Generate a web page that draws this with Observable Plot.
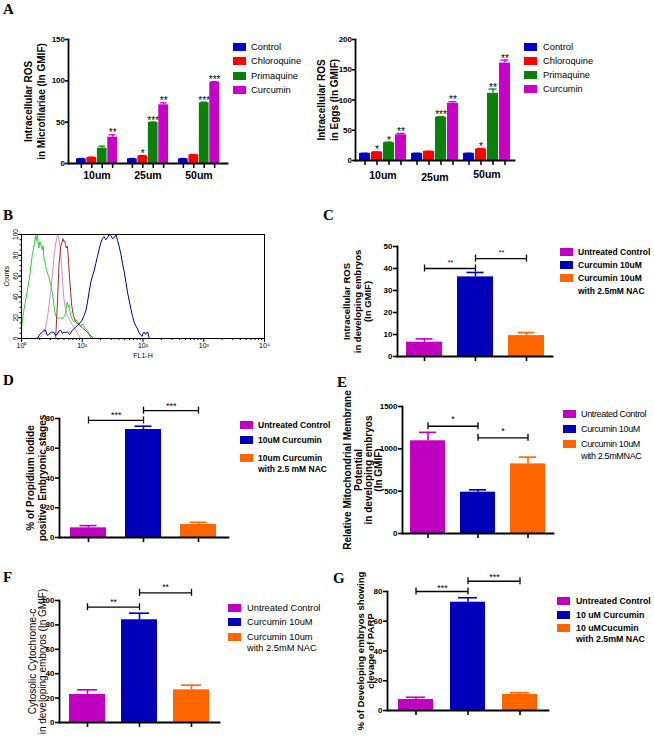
<!DOCTYPE html>
<html>
<head>
<meta charset="utf-8">
<script src="https://cdn.jsdelivr.net/npm/d3@7"></script>
<script src="https://cdn.jsdelivr.net/npm/@observablehq/plot@0.6"></script>
<style>
  html, body { margin: 0; padding: 0; background: #fff; }
  #fig { position: relative; width: 654px; height: 740px; overflow: hidden; background: #fff; color: #000; }
</style>
</head>
<body>
<div id="fig"></div>
<script>
// ================= DATA =================
// Panel A
const doses = ["10um", "25um", "50um"];
const drugs = ["Control", "Chloroquine", "Primaquine", "Curcumin"];
const drugColors = ["#0000cc", "#ff0000", "#0b800b", "#c800c8"];
const mfTicks = [0, 50, 100, 150];
const mfROS = [[5.6, 7.3, 18.5, 31.9], [5.6, 9.3, 49.6, 71.0], [5.6, 10.5, 73.4, 98.4]];
const mfErr = [[0.4, 0.4, 2.5, 2.8], [0.4, 0.4, 0.6, 2.4], [0.4, 0.4, 0.8, 0.5]];
const mfSig = [["", "", "", "**"], ["", "*", "***", "**"], ["", "", "***", "***"]];
const eggTicks = [0, 50, 100, 150, 200];
const eggROS = [[11.6, 13.8, 29.3, 42.5], [11.6, 14.9, 71.3, 94.5], [11.6, 18.8, 111, 161]];
const eggErr = [[0.5, 0.5, 1.1, 2.3], [0.5, 0.5, 1.1, 2.7], [0.5, 1.1, 7.0, 5.0]];
const eggSig = [["", "*", "*", "**"], ["", "", "***", "**"], ["", "*", "**", "**"]];

// Panel B (flow cytometry histogram: [FL1-H, Counts])
const flTicks = [1, 10, 100, 1000, 10000];
const countTicks = [0, 20, 40, 60, 80, 100];
const histGreen = [[1.0,8],[1.02,14],[1.1,28],[1.24,45],[1.38,62],[1.5,80],[1.62,90],[1.7,99],[1.76,94],[1.82,100],[1.88,92],[1.93,87],[2.0,93],[2.06,91],[2.13,88],[2.2,85],[2.27,89],[2.34,77],[2.42,74],[2.49,70],[2.57,66],[2.66,64],[2.74,61],[2.82,60],[2.92,55],[3.01,53],[3.11,48],[3.21,45],[3.31,38],[3.42,32],[3.53,26],[3.65,22],[3.87,20],[4.09,19],[4.4,20],[4.76,19],[5.05,21],[5.33,24],[5.5,32],[5.69,35],[5.87,30],[6.05,32],[6.26,27],[6.46,22],[6.9,18],[7.31,16],[7.8,18],[8.34,17],[8.9,13],[9.44,12],[10.0,14],[10.7,12],[11.4,9],[12.2,8],[13.0,4],[13.8,0]];
const histPink = [[1.84,0],[2.1,2],[2.34,5],[2.5,11],[2.66,19],[2.84,32],[3.01,44],[3.21,60],[3.42,78],[3.65,91],[3.8,97],[3.98,100],[4.14,95],[4.3,89],[4.53,73],[4.76,54],[5.0,38],[5.33,27],[5.69,22],[6.05,19],[6.46,16],[6.9,13],[7.31,11],[7.8,8],[8.34,5],[9.44,0]];
const histRed = [[3.65,0],[3.89,32],[4.14,70],[4.42,88],[4.62,92],[4.82,96],[5.0,93],[5.14,94],[5.32,90],[5.48,87],[5.69,89],[5.87,80],[6.05,67],[6.25,55],[6.46,44],[6.7,32],[7.16,22],[7.82,16],[10.2,10],[12.5,5],[15.5,0],[100,0]];
const histNavy = [[1.82,0],[2.0,4],[2.2,6],[2.35,8],[2.49,8],[2.65,3],[2.82,4],[3.1,6],[3.42,6],[3.6,3],[3.89,4],[4.1,7],[4.42,8],[4.7,5],[5.0,6],[5.69,6],[6.2,4],[6.89,8],[7.82,11],[8.85,14],[9.8,17],[10.7,22],[11.5,27],[12.2,35],[13.0,45],[13.8,54],[14.7,60],[15.7,65],[16.7,72],[17.8,79],[19.0,86],[20.2,92],[21.5,96],[22.9,98],[24.4,95],[26.1,97],[27.8,100],[29.6,99],[31.5,96],[33.6,97],[35.9,100],[38.2,94],[40.7,88],[43.3,81],[46.1,72],[49.1,64],[52.4,54],[55.8,44],[59.5,36],[63.4,28],[67.5,21],[71.8,15],[76.6,12],[81.7,9],[87,5],[92.7,3],[97,2],[100,5],[105,6],[110,4],[115,6],[120,6],[127,0],[10000,0]];

// Panels C-G
const treatColors = ["#c000c0", "#0000b8", "#ff6600"];

const rosGroups = ["Untreated Control", "Curcumin 10uM", "Curcumin 10uM\nwith 2.5mM NAC"];
const rosTicks = [0, 10, 20, 30, 40, 50];
const rosValues = [6.5, 36.2, 9.5];
const rosErrors = [1.5, 2.0, 1.4];
const rosBrackets = [[0, 1, 40, "**"], [1, 2, 44.5, "**"]];

const piGroups = ["Untreated Control", "10uM Curcumin", "10um Curcumin\nwith 2.5 mM NAC"];
const piTicks = [0, 20, 40, 60, 80];
const piValues = [6.5, 72.6, 8.8];
const piErrors = [1.5, 2.2, 1.4];
const piBrackets = [[0, 1, 78.7, "***"], [1, 2, 85.3, "***"]];

const mmpGroups = ["Untreated Control", "Curcumin 10uM", "Curcumin 10uM\nwith 2.5mMNAC"];
const mmpTicks = [0, 500, 1000, 1500];
const mmpValues = [1095, 488, 822];
const mmpErrors = [100, 28, 80];
const mmpBrackets = [[0, 1, 1267, "*"], [1, 2, 1130, "*"]];

const cytGroups = ["Untreated Control", "Curcumin 10uM", "Curcumin 10um\nwith 2.5mM NAC"];
const cytTicks = [0, 20, 40, 60, 80, 100];
const cytValues = [23, 84.2, 26.8];
const cytErrors = [3.8, 5.4, 3.8];
const cytBrackets = [[0, 1, 94.5, "**"], [1, 2, 106.3, "**"]];

const parpGroups = ["Untreated Control", "10 uM Curcumin", "10 uMCucumin\nwith 2.5mM NAC"];
const parpTicks = [0, 20, 40, 60, 80];
const parpValues = [7.4, 72.8, 10.8];
const parpErrors = [1.5, 3.0, 1.1];
const parpBrackets = [[0, 1, 80, "***"], [1, 2, 86.9, "***"]];

// ================= DRAWING =================
const SANS = '"Liberation Sans", Arial, Helvetica, sans-serif';
const SERIF = '"Liberation Serif", "Times New Roman", serif';
const fig = document.getElementById("fig");
const baseStyle = {fontFamily: SANS, background: "transparent", color: "#000", overflow: "visible"};
const plainNum = d => String(d);

function put(node, left, top) {
  node.style.position = "absolute";
  node.style.left = left + "px";
  node.style.top = top + "px";
  fig.appendChild(node);
}

function yLabelMark(o) {
  return Plot.text([o.ylabel], {
    text: d => d, frameAnchor: "left", rotate: -90, dx: o.ldx,
    fontSize: o.lfs, fontWeight: o.lfw || "bold", fontFamily: SANS,
    lineHeight: o.llh, textAnchor: "middle", lineAnchor: "middle"
  });
}

function groupedPanel(o) {
  const n = doses.length, k = drugs.length;
  const step = (o.width - o.ml - o.mr) / (n - o.pin + 2 * o.pout);
  const bw = step * (1 - o.pin), w = bw / k;
  const marks = [];
  drugs.forEach((drug, j) => {
    const rows = doses.map((g, i) => ({g, drug, v: o.values[i][j], e: o.errors[i][j], s: o.sig[i][j]}));
    const off = (j + 0.5) * w - bw / 2;
    const inL = j * w, inR = (k - 1 - j) * w;
    marks.push(
      Plot.barY(rows, {x: "g", y: "v", fill: "drug", insetLeft: inL, insetRight: inR}),
      Plot.ruleX(rows, {x: "g", y1: "v", y2: d => d.v + d.e, stroke: "drug", strokeWidth: 1.3, dx: off}),
      Plot.tickY(rows, {x: "g", y: d => d.v + d.e, stroke: "drug", strokeWidth: 1.3, insetLeft: inL + 1.5, insetRight: inR + 1.5}),
      Plot.text(rows.filter(d => d.s), {x: "g", y: d => d.v + d.e, text: "s", dx: off, dy: 1.5, lineAnchor: "bottom", fontSize: 10, fill: "#000"}),
      Plot.ruleX(doses, {x: d => d, y1: 0, y2: 0, insetBottom: -5, dx: off, strokeWidth: 1.5})
    );
  });
  marks.push(
    Plot.axisY(o.yTicks, {tickSize: 3, tickPadding: 0.5, fontSize: 8, fontWeight: "bold", strokeWidth: 1.6, tickFormat: plainNum, label: null}),
    ...o.xPads.map((p, i) => Plot.axisX([doses[i]], {tickSize: 0, tickPadding: p, fontSize: 10.5, fontWeight: "bold", label: null})),
    Plot.frame({anchor: "left", strokeWidth: 1.8}),
    Plot.frame({anchor: "bottom", strokeWidth: 1.8}),
    yLabelMark(o)
  );
  return Plot.plot({
    width: o.width, height: o.height,
    marginLeft: o.ml, marginRight: o.mr, marginTop: o.mt, marginBottom: o.mb,
    style: baseStyle,
    x: {type: "band", domain: doses, paddingInner: o.pin, paddingOuter: o.pout},
    y: {domain: [0, o.yTicks[o.yTicks.length - 1]]},
    color: {domain: drugs, range: drugColors},
    marks
  });
}

function simplePanel(o) {
  const n = o.groups.length;
  const step = (o.width - o.ml - o.mr) / (n - o.pin + 2 * o.pout);
  const bars = o.groups.map((g, i) => ({g, v: o.values[i], e: o.errors[i]}));
  const br = o.brackets.map(([a, b, lev, s]) => ({a: o.groups[a], b: o.groups[b], lev, s}));
  const ends = br.flatMap(d => [{x: d.a, lev: d.lev}, {x: d.b, lev: d.lev}]);
  return Plot.plot({
    width: o.width, height: o.height,
    marginLeft: o.ml, marginRight: o.mr, marginTop: o.mt, marginBottom: o.mb,
    style: baseStyle,
    x: {type: "band", domain: o.groups, paddingInner: o.pin, paddingOuter: o.pout},
    y: {domain: [0, o.yTicks[o.yTicks.length - 1]]},
    color: {domain: o.groups, range: treatColors},
    marks: [
      Plot.barY(bars, {x: "g", y: "v", fill: "g"}),
      Plot.ruleX(bars, {x: "g", y1: "v", y2: d => d.v + d.e, stroke: "g", strokeWidth: 1.6}),
      Plot.tickY(bars, {x: "g", y: d => d.v + d.e, stroke: "g", strokeWidth: 1.6, insetLeft: o.cap, insetRight: o.cap}),
      Plot.link(br, {x1: "a", x2: "b", y1: "lev", y2: "lev", stroke: "#000", strokeWidth: 1.3}),
      Plot.ruleX(ends, {x: "x", y1: "lev", y2: "lev", insetTop: -3.5, insetBottom: -3.5, stroke: "#000", strokeWidth: 1.3}),
      Plot.text(br, {x: "a", y: "lev", text: "s", dx: step / 2, dy: o.starDy, lineAnchor: "bottom", fontSize: o.starSize, fill: "#000"}),
      Plot.axisY(o.yTicks, {tickSize: 4, tickPadding: 1, fontSize: 8, fontWeight: "bold", strokeWidth: 1.6, tickFormat: plainNum, label: null}),
      Plot.axisX({tickSize: 5, tickFormat: () => "", strokeWidth: 1.6, label: null}),
      Plot.frame({anchor: "left", strokeWidth: 1.8}),
      Plot.frame({anchor: "bottom", strokeWidth: 1.8}),
      yLabelMark(o)
    ]
  });
}

function histPanel() {
  const supers = ["\u2070", "\u00b9", "\u00b2", "\u00b3", "\u2074"];
  const minorX = [];
  for (let e = 0; e < 4; e++) for (let m = 2; m < 10; m++) minorX.push(m * Math.pow(10, e));
  const minorY = d3.range(0, 101, 5);
  const curves = [[histGreen, "#33cc33"], [histPink, "#d08cd0"], [histRed, "#a0302a"], [histNavy, "#000088"]];
  return Plot.plot({
    width: 275, height: 140, marginLeft: 21, marginRight: 11, marginTop: 9, marginBottom: 27,
    style: baseStyle,
    x: {type: "log", domain: [1, 10000]},
    y: {domain: [0, 100]},
    marks: [
      ...curves.map(([pts, c]) => Plot.line(pts, {x: p => p[0], y: p => p[1], stroke: c, strokeWidth: 1})),
      Plot.frame({stroke: "#000", strokeWidth: 1}),
      Plot.axisX(flTicks, {tickSize: 4, tickPadding: 1, fontSize: 7, tickFormat: d => "10" + supers[Math.round(Math.log10(d))], label: null}),
      Plot.axisX(minorX, {tickSize: 2, tickFormat: () => "", label: null}),
      Plot.axisY(countTicks, {tickSize: 3, tickPadding: 1, tickRotate: -90, fontSize: 6.5, tickFormat: plainNum, label: null}),
      Plot.axisY(minorY, {tickSize: 1.5, tickFormat: () => "", label: null}),
      Plot.text(["FL1-H"], {text: d => d, frameAnchor: "bottom", dy: 19, fontSize: 7}),
      Plot.text(["Counts"], {text: d => d, frameAnchor: "left", rotate: -90, dx: -15, fontSize: 6.5})
    ]
  });
}

// ---- Panel A ----
put(groupedPanel({
  width: 235, height: 165, ml: 68, mr: 8, mt: 14, mb: 27, pin: 0.19, pout: 0.139,
  values: mfROS, errors: mfErr, sig: mfSig, yTicks: mfTicks, xPads: [8.5, 8.5, 8.5],
  ylabel: "Intracellular ROS\nin Microfilariae (In GMIF)", ldx: -34.5, lfs: 10, llh: 1.3
}), 0, 25);
put(groupedPanel({
  width: 210, height: 165, ml: 45, mr: 6, mt: 14, mb: 30, pin: 0.094, pout: 0.05,
  values: eggROS, errors: eggErr, sig: eggSig, yTicks: eggTicks, xPads: [11.5, 13, 10],
  ylabel: "Intracellular ROS\nin Eggs (In GMIF)", ldx: -28.5, lfs: 10, llh: 1.3
}), 310, 25);

// ---- Panel B ----
put(histPanel(), 0, 225);

// ---- Panels C-G ----
put(simplePanel({
  width: 240, height: 140, ml: 77, mr: 8, mt: 16, mb: 14, pin: 0.302, pout: 0.147, cap: 9.5,
  groups: rosGroups, values: rosValues, errors: rosErrors, brackets: rosBrackets, yTicks: rosTicks,
  starDy: -4, starSize: 7,
  ylabel: "Intracellular ROS\nin developing embryos\n(In GMIF)", ldx: -40, lfs: 9.5, llh: 1.1
}), 320, 230);
put(simplePanel({
  width: 235, height: 155, ml: 59, mr: 7, mt: 23, mb: 13, pin: 0.338, pout: 0.193, cap: 9.5,
  groups: piGroups, values: piValues, errors: piErrors, brackets: piBrackets, yTicks: piTicks,
  starDy: -2, starSize: 9,
  ylabel: "% of Propidium iodide\npositive Embryonic stages", ldx: -23, lfs: 10, llh: 1.2
}), 0, 395);
put(simplePanel({
  width: 240, height: 165, ml: 82, mr: 7, mt: 26, mb: 12, pin: 0.303, pout: 0.16, cap: 9,
  groups: mmpGroups, values: mmpValues, errors: mmpErrors, brackets: mmpBrackets, yTicks: mmpTicks,
  starDy: -4, starSize: 9,
  ylabel: "Relative Mitochondrial Membrane\nPotential\nin developing embryos\n(In GMIF)", ldx: -39, lfs: 10, llh: 1.02
}), 320, 380);
put(simplePanel({
  width: 225, height: 160, ml: 59, mr: 6, mt: 25, mb: 13, pin: 0.307, pout: 0.19, cap: 8,
  groups: cytGroups, values: cytValues, errors: cytErrors, brackets: cytBrackets, yTicks: cytTicks,
  starDy: -2.5, starSize: 8.5,
  ylabel: "Cytosolic Cytochrome-c\nin developing embryos (In GMIF)", ldx: -21.4, lfs: 10, lfw: "normal", llh: 1.02
}), 0, 575);
put(simplePanel({
  width: 235, height: 160, ml: 67, mr: 7, mt: 26, mb: 15, pin: 0.32, pout: 0.186, cap: 8,
  groups: parpGroups, values: parpValues, errors: parpErrors, brackets: parpBrackets, yTicks: parpTicks,
  starDy: -1, starSize: 9,
  ylabel: "% of Developing embryos showing\nclevage of PARP", ldx: -21.7, lfs: 9.6, llh: 1.05
}), 320, 565);

// ---- Overlay: panel letters and legends ----
const ov = d3.select(fig).append("svg")
  .attr("width", 654).attr("height", 740)
  .style("position", "absolute").style("left", "0px").style("top", "0px")
  .style("overflow", "visible");

[["A", 3, 13.5], ["B", 3, 220], ["C", 323, 220], ["D", 3, 385], ["E", 337, 387], ["F", 3, 582], ["G", 333, 583]]
  .forEach(([t, x, y]) => ov.append("text").attr("x", x).attr("y", y)
    .attr("font-family", SERIF).attr("font-weight", "bold").attr("font-size", 15).text(t));

function legend(labels, colors, sx, rows, tx, font) {
  labels.forEach((lab, i) => {
    ov.append("rect").attr("x", sx).attr("y", rows[i] - 4).attr("width", 13).attr("height", 8).attr("fill", colors[i]);
    const t = ov.append("text").attr("x", tx).attr("y", rows[i] + font.size * 0.36)
      .attr("font-family", SANS).attr("font-size", font.size).attr("font-weight", font.weight);
    if (font.ls) t.attr("letter-spacing", font.ls);
    lab.split("\n").forEach((line, k) => t.append("tspan").attr("x", tx).attr("dy", k ? font.lh : 0).text(line));
  });
}
legend(drugs, drugColors, 233, [47, 61, 76, 90], 251, {size: 9.3, weight: "normal", lh: 11});
legend(drugs, drugColors, 524, [47, 61, 75, 89], 543, {size: 9.3, weight: "normal", lh: 11});
legend(rosGroups, treatColors, 560, [252, 265, 278], 578, {size: 8.5, weight: "bold", lh: 13});
legend(piGroups, treatColors, 240, [425, 440, 458], 258, {size: 8.5, weight: "bold", lh: 11});
legend(mmpGroups, treatColors, 563, [414, 429, 444], 581, {size: 9, weight: "normal", lh: 12, ls: -0.35});
legend(cytGroups, treatColors, 228, [608, 622, 637], 247, {size: 9.3, weight: "normal", lh: 11});
legend(parpGroups, treatColors, 557, [601, 615, 628], 576, {size: 8.8, weight: "bold", lh: 11});
</script>
</body>
</html>
